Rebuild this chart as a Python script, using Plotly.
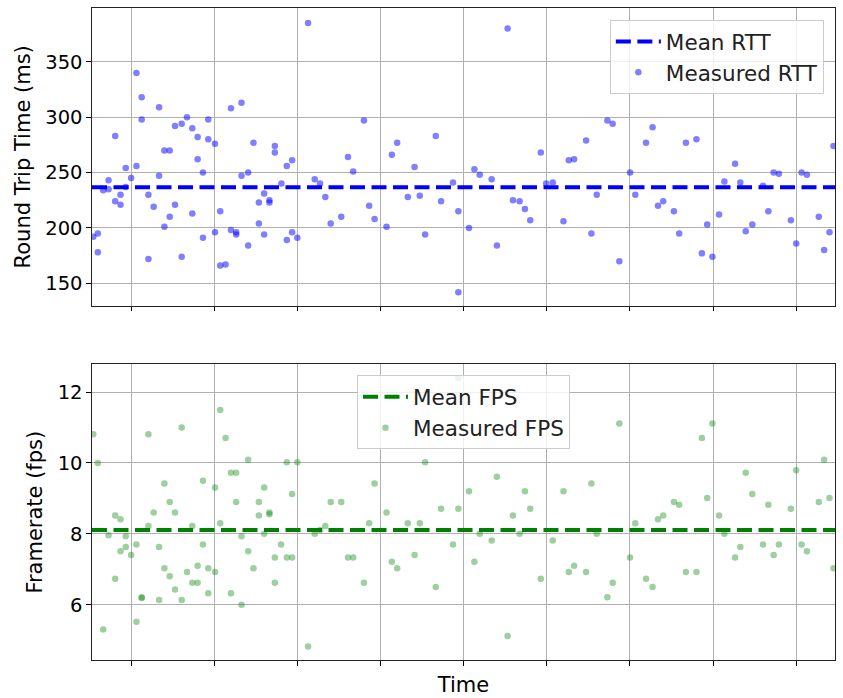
import plotly.graph_objects as go

# ---------------- data ----------------
rtt_time = [0.0, 0.55, 0.55, 1.2, 1.84, 1.84, 2.64, 2.64, 3.28, 3.28,
            3.91, 3.91, 4.56, 5.2, 5.2, 5.83, 5.83, 6.64, 6.64, 7.27,
            7.92, 7.92, 8.56, 8.56, 9.2, 9.2, 9.84, 9.84, 10.64, 10.64,
            11.28, 11.92, 11.92, 12.56, 12.56, 13.2, 13.2, 13.84, 13.84, 14.65,
            14.65, 15.28, 15.28, 15.92, 16.57, 16.57, 17.2, 17.2, 17.84, 17.84,
            18.64, 18.64, 19.28, 19.93, 19.93, 20.56, 20.56, 21.2, 21.2, 21.85,
            21.85, 22.64, 23.29, 23.29, 23.93, 23.93, 24.56, 25.85, 26.65, 27.29,
            27.92, 28.57, 29.84, 30.65, 31.28, 32.57, 33.2, 33.85, 35.29, 35.93,
            36.57, 37.85, 38.66, 39.29, 39.93, 41.21, 41.85, 43.29, 43.93, 43.93,
            45.21, 45.86, 46.5, 47.94, 48.57, 49.86, 50.5, 51.3, 51.94, 52.58,
            53.85, 54.5, 55.29, 56.58, 57.22, 57.86, 59.3, 59.94, 60.58, 61.86,
            62.5, 63.3, 64.59, 65.22, 66.51, 67.3, 67.95, 68.58, 69.87, 70.5,
            71.31, 72.58, 73.23, 73.87, 74.5, 75.3, 75.94, 77.23, 77.86, 78.51,
            79.3, 80.59, 81.23, 81.87, 82.5, 83.94, 84.58, 85.23, 85.87, 87.3,
            87.94, 88.59, 89.07]
rtt_ms = [192, 195, 178, 234, 243, 235, 283, 224, 230, 221,
          254, 237, 245, 340, 256, 318, 298, 230, 172, 219,
          309, 247, 270, 201, 270, 210, 292, 221, 294, 174,
          300, 290, 213, 282, 262, 250, 191, 298, 280, 276,
          196, 215, 166, 167, 308, 198, 196, 194, 313, 247,
          250, 184, 277, 223, 204, 231, 194, 225, 223, 274,
          268, 240, 256, 189, 261, 196, 191, 385, 244, 240,
          228, 204, 210, 264, 251, 297, 220, 208, 201, 266,
          277, 228, 255, 229, 194, 283, 224, 241, 215, 142,
          200, 253, 248, 244, 184, 380, 225, 224, 217, 207,
          268, 240, 241, 206, 261, 262, 279, 195, 230, 297,
          294, 170, 250, 230, 277, 291, 220, 224, 215, 195,
          277, 280, 177, 203, 174, 212, 242, 258, 241, 197,
          203, 238, 215, 250, 249, 207, 186, 250, 248, 210,
          180, 196, 274]

fps_time = [0.0, 0.55, 1.2, 1.84, 2.64, 2.64, 3.28, 3.28, 3.91, 3.91,
            4.56, 5.2, 5.2, 5.83, 5.83, 6.64, 6.64, 7.27, 7.92, 7.92,
            8.56, 8.56, 9.2, 9.2, 9.84, 9.84, 10.64, 10.64, 11.28, 11.92,
            11.92, 12.56, 12.56, 13.2, 13.2, 13.84, 13.84, 14.65, 14.65, 15.28,
            15.28, 15.92, 16.57, 16.57, 17.2, 17.2, 17.84, 17.84, 18.64, 18.64,
            19.28, 19.93, 19.93, 20.56, 20.56, 21.2, 21.2, 21.85, 21.85, 22.6,
            23.29, 23.29, 23.93, 23.93, 24.56, 25.85, 26.65, 27.29, 27.92, 28.57,
            29.84, 30.65, 31.28, 32.57, 33.2, 33.85, 35.29, 35.93, 36.57, 37.85,
            38.66, 39.29, 39.93, 41.21, 41.85, 43.29, 43.93, 43.93, 45.21, 45.86,
            46.5, 47.94, 48.57, 49.86, 50.5, 51.3, 51.94, 52.58, 53.85, 55.29,
            56.58, 57.22, 57.86, 59.3, 59.94, 60.58, 61.86, 62.5, 63.3, 64.59,
            65.22, 66.51, 67.3, 67.95, 68.58, 69.87, 70.5, 71.31, 72.58, 73.23,
            73.87, 74.5, 75.3, 75.94, 77.23, 77.86, 78.51, 79.3, 80.59, 81.23,
            81.87, 82.5, 83.94, 84.58, 85.23, 85.87, 87.3, 87.94, 88.59, 89.07]
fps_val = [10.81, 10.0, 5.30, 7.96, 8.52, 6.73, 8.41, 7.51, 7.93, 7.63,
           7.40, 7.70, 5.52, 6.21, 6.19, 10.81, 8.22, 8.60, 7.63, 6.13,
           9.42, 7.03, 8.90, 6.80, 8.60, 6.43, 11.0, 6.13, 6.92, 8.22,
           6.62, 7.10, 6.62, 9.50, 7.70, 7.03, 6.32, 9.31, 6.92, 11.49,
           8.30, 10.70, 9.72, 6.32, 9.72, 8.90, 7.93, 6.00, 10.09, 7.51,
           7.03, 8.90, 8.52, 9.31, 8.00, 8.60, 8.55, 7.33, 6.62, 7.70,
           10.02, 7.33, 9.12, 7.33, 10.02, 4.82, 8.0, 8.11, 8.22, 8.90,
           8.90, 7.33, 7.33, 6.62, 8.30, 9.42, 8.60, 7.21, 7.03, 8.30,
           7.40, 8.30, 10.02, 6.50, 8.71, 7.70, 8.71, 12.39, 9.20, 7.21,
           8.00, 7.81, 9.61, 5.12, 8.52, 8.00, 9.20, 8.71, 6.73, 7.81,
           9.20, 6.92, 7.10, 6.92, 9.42, 8.00, 6.21, 6.62, 11.11, 7.33,
           8.30, 6.73, 6.50, 8.41, 8.52, 8.90, 8.82, 6.92, 6.92, 10.70,
           9.01, 11.11, 8.52, 8.00, 7.33, 7.63, 9.72, 9.12, 7.70, 8.82,
           7.40, 7.70, 8.71, 9.79, 7.70, 7.51, 8.90, 10.09, 9.01, 7.03]

MEAN_RTT = 236.8
MEAN_FPS = 8.11

assert len(rtt_time) == len(rtt_ms)
assert len(fps_time) == len(fps_val)

# ---------------- styling ----------------
FONT = "DejaVu Sans"
X_RANGE = [-0.15, 89.25]
x_line = X_RANGE

fig = go.Figure()

fig.add_trace(go.Scatter(
    x=x_line, y=[MEAN_RTT, MEAN_RTT], mode="lines", name="Mean RTT",
    line=dict(color="blue", width=4, dash="15px,6.5px"),
    xaxis="x", yaxis="y", legend="legend"))
fig.add_trace(go.Scatter(
    x=rtt_time, y=rtt_ms, mode="markers", name="Measured RTT",
    marker=dict(color="rgba(0,0,255,0.5)", size=6.5, line=dict(width=0)),
    xaxis="x", yaxis="y", legend="legend"))

fig.add_trace(go.Scatter(
    x=x_line, y=[MEAN_FPS, MEAN_FPS], mode="lines", name="Mean FPS",
    line=dict(color="green", width=4, dash="15px,6.5px"),
    xaxis="x2", yaxis="y2", legend="legend2"))
fig.add_trace(go.Scatter(
    x=fps_time, y=fps_val, mode="markers", name="Measured FPS",
    marker=dict(color="rgba(0,128,0,0.38)", size=6.5, line=dict(width=0)),
    xaxis="x2", yaxis="y2", legend="legend2"))

common_x = dict(range=X_RANGE, tick0=4.57, dtick=10, showticklabels=False,
                ticks="outside", ticklen=4.5, tickcolor="black", tickwidth=1,
                showgrid=True, gridcolor="#b0b0b0", gridwidth=1,
                showline=True, linecolor="#222", linewidth=1.2, mirror=True,
                zeroline=False)
common_y = dict(ticks="outside", ticklen=4.5, tickcolor="black", tickwidth=1,
                showgrid=True, gridcolor="#b0b0b0", gridwidth=1,
                showline=True, linecolor="#222", linewidth=1.2, mirror=True,
                zeroline=False, tickfont=dict(size=19.5, color="black"))

legend_style = dict(bgcolor="rgba(255,255,255,0.8)", bordercolor="#cccccc",
                    borderwidth=1, font=dict(size=21.5, color="#222", family=FONT),
                    itemwidth=45, tracegroupgap=0)

fig.update_layout(
    width=843, height=698,
    margin=dict(l=92, r=7, t=7, b=36),
    paper_bgcolor="white", plot_bgcolor="white",
    font=dict(family=FONT, color="black"),
    showlegend=True,
    xaxis=dict(domain=[0, 1], anchor="y", **common_x),
    xaxis2=dict(domain=[0, 1], anchor="y2",
                title=dict(text="Time", font=dict(size=21, color="black"), standoff=12),
                **common_x),
    yaxis=dict(domain=[0.5435, 1], anchor="x", range=[129.8, 398.6],
               tick0=150, dtick=50,
               title=dict(text="Round Trip Time (ms)", font=dict(size=21, color="black"), standoff=8),
               **common_y),
    yaxis2=dict(domain=[0, 0.4534], anchor="x2", range=[4.44, 12.78],
                tick0=6, dtick=2,
                title=dict(text="Framerate (fps)", font=dict(size=21, color="black"), standoff=9),
                **common_y),
    legend=dict(x=0.985, y=0.9817, xanchor="right", yanchor="top", **legend_style),
    legend2=dict(x=0.5, y=0.4366, xanchor="center", yanchor="top", **legend_style),
)

fig.write_html("out.html")
